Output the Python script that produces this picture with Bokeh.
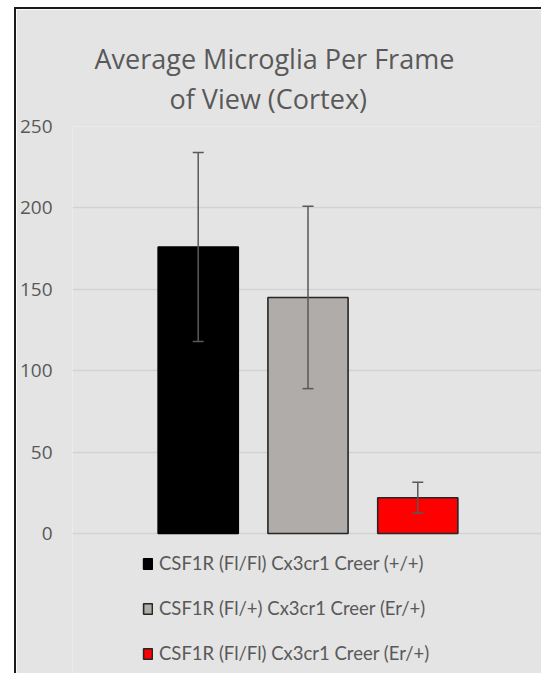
from bokeh.plotting import figure
from bokeh.models import (FactorRange, Range1d, ColumnDataSource, Whisker, TeeHead,
                          Legend, LegendItem, Title, FixedTicker)
from bokeh.embed import file_html
from bokeh.resources import INLINE

# ---- data ----
groups = ["CSF1R (Fl/Fl) Cx3cr1 Creer (+/+)",
          "CSF1R (Fl/+) Cx3cr1 Creer (Er/+)",
          "CSF1R (Fl/Fl) Cx3cr1 Creer (Er/+)"]
means = [176, 145, 22]
errors = [58, 56, 9.5]
y_ticks = [0, 50, 100, 150, 200, 250]
title_lines = ["Average Microglia Per Frame", "of View (Cortex)"]

# ---- styles ----
fills = ["#000000", "#afacaa", "#ff0000"]
outlines = ["#000000", "#262626", "#262626"]
BG = "#e4e4e4"
TXT = "#595959"
FONT = "Open Sans"

p = figure(x_range=FactorRange(factors=groups, range_padding=0.645, range_padding_units="absolute"),
           y_range=Range1d(-87.2, 250), width=527, height=666,
           output_backend="svg", toolbar_location=None,
           background_fill_color=BG, border_fill_color=BG, outline_line_color=None,
           min_border_left=55, min_border_right=0, min_border_bottom=0, min_border_top=117)
p.styles = {"margin-left": "14px", "margin-top": "7px",
            "border-left": "2px solid #1a1a1a", "border-top": "2px solid #1a1a1a"}

src = ColumnDataSource(dict(
    x=groups, top=means, fill=fills, line=outlines,
    upper=[m + e for m, e in zip(means, errors)],
    lower=[m - e for m, e in zip(means, errors)],
))

bars = p.vbar(x="x", top="top", width=0.73, source=src, fill_color="fill",
              line_color="line", line_width=1.6)

w = Whisker(base="x", upper="upper", lower="lower", source=src, level="overlay",
            line_color=TXT, line_width=1.5,
            upper_head=TeeHead(size=11, line_color=TXT, line_width=1.5),
            lower_head=TeeHead(size=11, line_color=TXT, line_width=1.5))
p.add_layout(w)

# titles (first added sits closest to the plot)
p.add_layout(Title(text=title_lines[1], align="left", offset=97, standoff=20,
                   text_font=FONT, text_font_size="27px",
                   text_color=TXT, text_font_style="normal"), "above")
p.add_layout(Title(text=title_lines[0], align="left", offset=22, standoff=-18,
                   text_font=FONT, text_font_size="27px",
                   text_color=TXT, text_font_style="normal"), "above")

# axes / grid
p.xaxis.visible = False
p.xgrid.visible = False
p.yaxis.ticker = FixedTicker(ticks=y_ticks)
p.yaxis.axis_line_color = None
p.yaxis.major_tick_line_color = None
p.yaxis.minor_tick_line_color = None
p.yaxis.major_label_standoff = 14
p.yaxis.major_label_text_font = FONT
p.yaxis.major_label_text_font_size = "19px"
p.yaxis.major_label_text_color = TXT
p.ygrid.grid_line_color = "#d2d2d2"
p.ygrid.grid_line_width = 1.5

legend = Legend(items=[LegendItem(label=g, renderers=[bars], index=i) for i, g in enumerate(groups)],
                location=(70, 10), orientation="vertical",
                glyph_width=11, glyph_height=13, label_standoff=6, label_height=24,
                label_text_font="Lato", label_text_font_size="18.5px",
                label_text_color=TXT, spacing=21, padding=0, margin=0,
                border_line_color=None, background_fill_alpha=0)
p.add_layout(legend)

open("out.html", "w").write(file_html(p, INLINE))
